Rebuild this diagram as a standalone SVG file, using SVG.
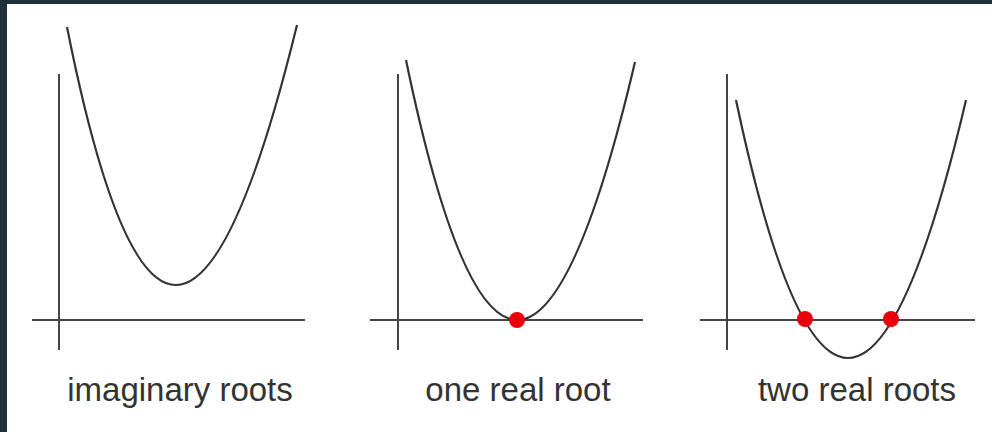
<svg xmlns="http://www.w3.org/2000/svg" width="992" height="432" viewBox="0 0 992 432">
<style>
.axis{stroke:#444;stroke-width:2;fill:none}
.curve{stroke:#333;stroke-width:2.2;fill:none}
.root{fill:#e8000b}
.lbl{font-family:"Liberation Sans",Arial,sans-serif;font-size:33px;fill:#333;text-anchor:middle}
</style>
<rect width="992" height="432" fill="#ffffff"/>
<rect x="0" y="0" width="992" height="4" fill="#1e3038"/>
<rect x="0" y="0" width="7" height="432" fill="#1e3038"/>
<g id="panel-imaginary">
<line class="axis" x1="59" y1="74" x2="59" y2="350"/>
<line class="axis" x1="32" y1="320" x2="305" y2="320"/>
<path class="curve" d="M67,27 Q170,544 297,25"/>
<text class="lbl" x="180" y="401">imaginary roots</text>
</g>
<g id="panel-one">
<line class="axis" x1="398" y1="74" x2="398" y2="350"/>
<line class="axis" x1="370" y1="320" x2="643" y2="320"/>
<path class="curve" d="M406,60 Q513.5,579 635,62"/>
<circle class="root" cx="517" cy="320" r="8"/>
<text class="lbl" x="518" y="401">one real root</text>
</g>
<g id="panel-two">
<line class="axis" x1="727" y1="74" x2="727" y2="350"/>
<line class="axis" x1="700" y1="320" x2="975" y2="320"/>
<path class="curve" d="M736,100 Q845,616 966,100"/>
<circle class="root" cx="805" cy="319" r="8"/>
<circle class="root" cx="891" cy="319" r="8"/>
<text class="lbl" x="857" y="401">two real roots</text>
</g>
</svg>
